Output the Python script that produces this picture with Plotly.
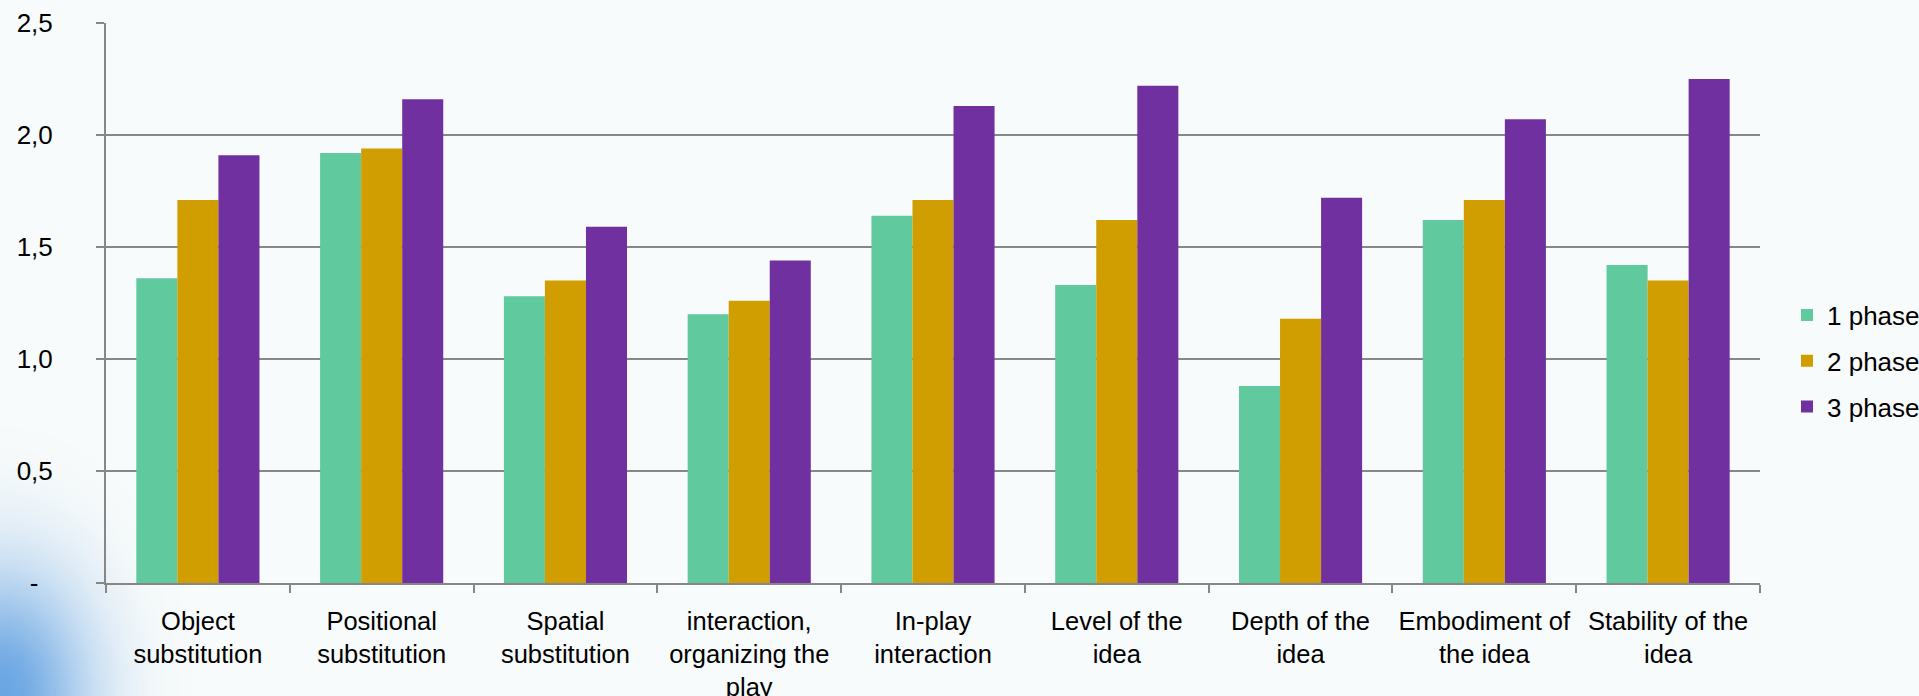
import base64
import struct
import zlib

import numpy as np
import plotly.graph_objects as go

categories = ["Object substitution", "Positional substitution", "Spatial substitution",
              "interaction, organizing the play", "In-play interaction", "Level of the idea",
              "Depth of the idea", "Embodiment of the idea", "Stability of the idea"]
tick_labels = ["Object<br>substitution", "Positional<br>substitution", "Spatial<br>substitution",
               "interaction,<br>organizing the<br>play", "In-play<br>interaction", "Level of the<br>idea",
               "Depth of the<br>idea", "Embodiment of<br>the idea", "Stability of the<br>idea"]
phase1 = [1.36, 1.92, 1.28, 1.20, 1.64, 1.33, 0.88, 1.62, 1.42]
phase2 = [1.71, 1.94, 1.35, 1.26, 1.71, 1.62, 1.18, 1.71, 1.35]
phase3 = [1.91, 2.16, 1.59, 1.44, 2.13, 2.22, 1.72, 2.07, 2.25]
series_names = ["1 phase", "2 phase", "3 phase"]
y_tickvals = [0, 0.5, 1.0, 1.5, 2.0, 2.5]
y_ticktext = ["-\u00a0\u00a0", "0,5", "1,0", "1,5", "2,0", "2,5"]

colors = ["#60C99E", "#D09E00", "#7030A0"]
grid = "#878787"
font = "Liberation Sans, Arial, sans-serif"

W, H = 1919, 696
ML, MR, MT, MB = 106, 159, 23, 113
PW, PH = W - ML - MR, H - MT - MB
GLOW = 300  # px size of the decorative corner glow


# decorative blue glow in the bottom-left corner of the slide background
def glow_png(n=150):
    yy, xx = np.mgrid[0:n, 0:n].astype(float)
    px = xx / (n - 1) * GLOW
    py = (n - 1 - yy) / (n - 1) * GLOW
    a = 0.85 * np.exp(-((px / 90.0) ** 2 + (py / 125.0) ** 2))
    img = np.zeros((n, n, 4), dtype=np.uint8)
    img[..., 0] = 80
    img[..., 1] = 150
    img[..., 2] = 222
    img[..., 3] = np.clip(a * 255, 0, 255).astype(np.uint8)
    raw = b"".join(b"\x00" + img[i].tobytes() for i in range(n))

    def chunk(tag, data):
        c = tag + data
        return struct.pack(">I", len(data)) + c + struct.pack(">I", zlib.crc32(c) & 0xffffffff)

    png = (b"\x89PNG\r\n\x1a\n" + chunk(b"IHDR", struct.pack(">IIBBBBB", n, n, 8, 6, 0, 0, 0))
           + chunk(b"IDAT", zlib.compress(raw, 9)) + chunk(b"IEND", b""))
    return "data:image/png;base64," + base64.b64encode(png).decode()


fig = go.Figure()
for name, vals, c in zip(series_names, [phase1, phase2, phase3], colors):
    fig.add_trace(go.Bar(x=categories, y=vals, name=name, legendgroup=name,
                         marker=dict(color=c, line=dict(width=0))))

fig.add_layout_image(dict(
    source=glow_png(), xref="paper", yref="paper",
    x=-ML / PW, y=(-MB + GLOW) / PH, sizex=GLOW / PW, sizey=GLOW / PH,
    xanchor="left", yanchor="top", sizing="stretch", layer="below", opacity=1))

fig.update_layout(
    width=W, height=H, autosize=False,
    margin=dict(l=ML, r=MR, t=MT, b=MB, pad=0),
    paper_bgcolor="#f8fbfb", plot_bgcolor="rgba(248,251,251,0)",
    barmode="group", bargap=0.33, bargroupgap=0,
    font=dict(family=font, size=26, color="#000000"),
    legend=dict(xref="container", yref="container", x=1787 / W, y=(H - 361) / H,
                xanchor="left", yanchor="middle",
                font=dict(size=26), bgcolor="rgba(0,0,0,0)", itemwidth=30, tracegroupgap=9,
                borderwidth=0),
    xaxis=dict(type="category", tickmode="array", tickvals=categories, ticktext=tick_labels,
               showline=True, linecolor=grid, linewidth=2, ticks="outside", tickson="boundaries",
               ticklen=8, tickwidth=2, tickcolor=grid, showgrid=False, tickangle=0,
               tickfont=dict(size=25.5), ticklabelstandoff=14, automargin=False),
    yaxis=dict(range=[0, 2.5], tickmode="array", tickvals=y_tickvals, ticktext=y_ticktext,
               showgrid=True, gridcolor=grid, gridwidth=2, zeroline=False,
               showline=True, linecolor=grid, linewidth=2, ticks="outside", ticklen=8,
               tickwidth=2, tickcolor=grid, ticklabelstandoff=38, automargin=False),
)

fig.write_html("out.html")
